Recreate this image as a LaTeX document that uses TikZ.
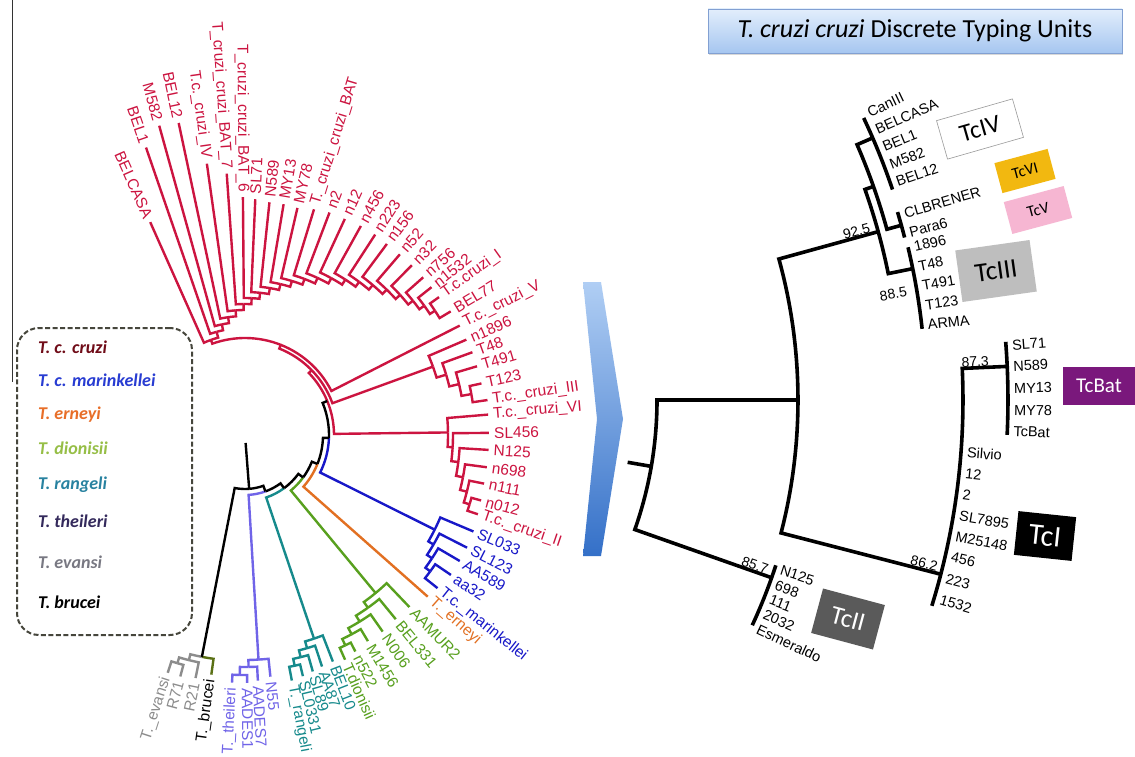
\documentclass[tikz,border=0pt]{standalone}
\usepackage{fontspec}
\setmainfont{Liberation Sans}
\newfontfamily\calib{Carlito}
\usetikzlibrary{positioning}
\usetikzlibrary{shadows}

\definecolor{tcred}{RGB}{204,20,64}
\definecolor{tcblue}{RGB}{24,24,200}
\definecolor{tcorange}{RGB}{226,112,34}
\definecolor{tcgreen}{RGB}{88,160,30}
\definecolor{tcteal}{RGB}{22,138,140}
\definecolor{tcviolet}{RGB}{112,100,232}
\definecolor{tcolive}{RGB}{90,112,20}
\definecolor{tcgray}{RGB}{140,140,140}
\definecolor{lgcruzi}{RGB}{112,12,24}
\definecolor{lgmarin}{RGB}{40,60,210}
\definecolor{lgerneyi}{RGB}{232,110,40}
\definecolor{lgdion}{RGB}{150,190,70}
\definecolor{lgrang}{RGB}{40,130,160}
\definecolor{lgtheil}{RGB}{52,42,92}
\definecolor{lgevansi}{RGB}{120,120,130}
\definecolor{legline}{RGB}{70,70,60}
\definecolor{boxgold}{RGB}{242,184,16}
\definecolor{boxpink}{RGB}{246,182,210}
\definecolor{boxgray}{RGB}{190,190,190}
\definecolor{boxbat}{RGB}{122,24,124}
\definecolor{boxdark}{RGB}{90,90,90}
\definecolor{titletop}{RGB}{226,238,252}
\definecolor{titlebot}{RGB}{166,198,240}
\definecolor{titleline}{RGB}{130,160,210}
\definecolor{chevtop}{RGB}{176,206,244}
\definecolor{chevbot}{RGB}{52,112,200}

\tikzset{branch/.style = {line width=2.4pt},
         rbranch/.style = {line width=3.6pt, black},
         leaflbl/.style = {font=\fontsize{15.5}{15.5}\selectfont, inner sep=1pt},
         dtulbl/.style = {font=\fontsize{14.5}{14.5}\selectfont, inner sep=1pt, anchor=west},
         support/.style = {font=\fontsize{14}{14}\selectfont, inner sep=1pt},
         dtubox/.style = {inner sep=0pt},
         legitem/.style = {font=\calib\bfseries\itshape\fontsize{18}{18}\selectfont,
                           anchor=west, inner sep=0pt}}

% two children of one node: colour1, colour2, node radius, angle1, radius1, angle2, radius2
\newcommand{\cladejoin}[7]{%
  \pgfmathsetmacro{\cjmid}{(#4+#6)/2}%
  \draw[branch,#1] (#4:#5) -- (#4:#3) arc[start angle=#4, end angle=\cjmid, radius=#3];%
  \draw[branch,#2] (#6:#7) -- (#6:#3) arc[start angle=#6, end angle=\cjmid, radius=#3];}
\newcommand{\tipout}[5]{\node[leaflbl, text=#2, rotate=#3, anchor=west] (#1) at (#3:#4) {#5};}
\newcommand{\tipin}[5]{\node[leaflbl, text=#2, rotate=#3+180, anchor=east] (#1) at (#3:#4) {#5};}

\begin{document}
\begin{tikzpicture}[x=1pt, y=1pt]
  \fill[white] (0,0) rectangle (1135,-757);
  \useasboundingbox (0,0) rectangle (1135,-757);

  \draw[black!80, line width=0.8pt] (12,0) -- (12,-382);

  % circular tree
  \begin{scope}[shift={(245,-435)}]
    % T. c. cruzi, upper fan
    \cladejoin{tcred}{tcred}{101}{114}{233}{105.41}{107}
    \cladejoin{tcred}{tcred}{107}{109}{304}{101.83}{113}
    \cladejoin{tcred}{tcred}{113}{105.5}{321}{98.15}{119}
    \cladejoin{tcred}{tcred}{119}{102}{319}{94.31}{125}
    \cladejoin{tcred}{tcred}{125}{98}{274}{90.61}{131}
    \cladejoin{tcred}{tcred}{131}{94}{262}{87.22}{137}
    \cladejoin{tcred}{tcred}{137}{90.5}{238}{83.95}{143}
    \cladejoin{tcred}{tcred}{143}{87.5}{236}{80.39}{149}
    \cladejoin{tcred}{tcred}{149}{84}{234}{76.78}{155}
    \cladejoin{tcred}{tcred}{155}{80.5}{234}{73.05}{161}
    \cladejoin{tcred}{tcred}{161}{77}{233}{69.09}{167}
    \cladejoin{tcred}{tcred}{167}{73}{236}{65.19}{173}
    \cladejoin{tcred}{tcred}{173}{69.2}{238}{61.17}{179}
    \cladejoin{tcred}{tcred}{179}{65.2}{238}{57.14}{185}
    \cladejoin{tcred}{tcred}{185}{61}{239}{53.29}{191}
    \cladejoin{tcred}{tcred}{191}{57}{239}{49.57}{197}
    \cladejoin{tcred}{tcred}{197}{53.4}{238}{45.74}{203}
    \cladejoin{tcred}{tcred}{203}{49.4}{238}{42.08}{209}
    \cladejoin{tcred}{tcred}{209}{45.5}{238}{38.65}{215}
    \cladejoin{tcred}{tcred}{215}{41.5}{238}{35.8}{221}
    \cladejoin{tcred}{tcred}{221}{38.4}{238}{33.2}{227}
    \cladejoin{tcred}{tcred}{227}{35.4}{238}{31}{240}
    % T. c. cruzi, III and VI--II
    \cladejoin{tcred}{tcred}{230}{12.3}{242}{8.2}{245}
    \cladejoin{tcred}{tcred}{220}{16.5}{242}{10.25}{230}
    \cladejoin{tcred}{tcred}{210}{20}{242}{13.38}{220}
    \cladejoin{tcred}{tcred}{200}{23.3}{241}{16.69}{210}
    \cladejoin{tcred}{tcred}{97}{109.71}{101}{27}{241}
    \cladejoin{tcred}{tcred}{93}{68.36}{97}{19.99}{200}
    \cladejoin{tcred}{tcred}{235}{-15.5}{245}{-18.8}{246}
    \cladejoin{tcred}{tcred}{229}{-11.5}{244}{-17.15}{235}
    \cladejoin{tcred}{tcred}{222}{-7.6}{244}{-14.33}{229}
    \cladejoin{tcred}{tcred}{215}{-3.5}{244}{-10.96}{222}
    \cladejoin{tcred}{tcred}{208}{0.5}{244}{-7.23}{215}
    \cladejoin{tcred}{tcred}{203}{4.8}{244}{-3.37}{208}
    \cladejoin{tcred}{tcred}{89}{44.18}{93}{0.72}{203}
    % T. c. marinkellei
    \cladejoin{tcblue}{tcblue}{230}{-34.2}{249}{-38.5}{246}
    \cladejoin{tcblue}{tcblue}{224}{-30.4}{249}{-36.35}{230}
    \cladejoin{tcblue}{tcblue}{218}{-26.9}{249}{-33.38}{224}
    \cladejoin{tcblue}{tcblue}{212}{-22.9}{248}{-30.14}{218}
    % T. dionisii
    \cladejoin{tcgreen}{tcgreen}{233}{-63}{243}{-66}{246}
    \cladejoin{tcgreen}{tcgreen}{226}{-59.2}{240}{-64.5}{233}
    \cladejoin{tcgreen}{tcgreen}{219}{-55}{240}{-61.85}{226}
    \cladejoin{tcgreen}{tcgreen}{212}{-50.7}{238}{-58.43}{219}
    \cladejoin{tcgreen}{tcgreen}{205}{-46.3}{238}{-54.56}{212}
    % T. rangeli
    \cladejoin{tcteal}{tcteal}{236}{-76.5}{248}{-79.2}{250}
    \cladejoin{tcteal}{tcteal}{229}{-74}{246}{-77.85}{236}
    \cladejoin{tcteal}{tcteal}{222}{-71.6}{244}{-75.93}{229}
    \cladejoin{tcteal}{tcteal}{215}{-68.8}{243}{-73.76}{222}
    % T. theileri
    \cladejoin{tcviolet}{tcviolet}{240}{-89.5}{248}{-93}{248}
    \cladejoin{tcviolet}{tcviolet}{232}{-87}{246}{-91.25}{240}
    \cladejoin{tcviolet}{tcviolet}{225}{-84}{243}{-89.13}{232}
    % T. evansi / T. brucei
    \cladejoin{tcgray}{tcgray}{238}{-105}{250}{-108}{250}
    \cladejoin{tcgray}{tcgray}{232}{-101.5}{248}{-106.5}{238}
    \cladejoin{tcolive}{tcgray}{226}{-98}{242}{-104}{232}
    % backbone
    \cladejoin{black}{tcblue}{84}{22.45}{89}{-26.52}{212}
    \cladejoin{black}{tcorange}{78}{-2.04}{84}{-41.5}{244}
    \cladejoin{black}{tcgreen}{72}{-21.77}{78}{-50.43}{205}
    \cladejoin{black}{tcteal}{66}{-36.1}{72}{-71.28}{215}
    \cladejoin{black}{tcviolet}{60}{-53.69}{66}{-86.56}{225}
    \cladejoin{black}{black}{54}{-70.13}{60}{-101}{226}
    \draw[branch] (-85.57:54) -- (-85.57:8);

    % leaf labels
    \tipin{lf01}{tcred}{114}{237}{BELCASA}
    \tipin{lf02}{tcred}{109}{308}{BEL1}
    \tipin{lf03}{tcred}{105.5}{325}{M582}
    \tipin{lf04}{tcred}{102}{323}{BEL12}
    \tipin{lf05}{tcred}{98}{278}{T.c.\_cruzi\_IV}
    \tipin{lf06}{tcred}{94}{266}{T\_cruzi\_cruzi\_BAT\_7}
    \tipin{lf07}{tcred}{90.5}{242}{T\_cruzi\_cruzi\_BAT\_6}
    \tipout{lf08}{tcred}{87.5}{240}{SL71}
    \tipout{lf09}{tcred}{84}{238}{N589}
    \tipout{lf10}{tcred}{80.5}{238}{MY13}
    \tipout{lf11}{tcred}{77}{237}{MY78}
    \tipout{lf12}{tcred}{73}{240}{T.\_cruzi\_cruzi\_BAT}
    \tipout{lf13}{tcred}{69.2}{242}{n2}
    \tipout{lf14}{tcred}{65.2}{242}{n12}
    \tipout{lf15}{tcred}{61}{243}{n456}
    \tipout{lf16}{tcred}{57}{243}{n223}
    \tipout{lf17}{tcred}{53.4}{242}{n156}
    \tipout{lf18}{tcred}{49.4}{242}{n52}
    \tipout{lf19}{tcred}{45.5}{242}{n32}
    \tipout{lf20}{tcred}{41.5}{242}{n756}
    \tipout{lf21}{tcred}{38.4}{242}{n1532}
    \tipout{lf22}{tcred}{35.4}{242}{T.c.cruzi\_I}
    \tipout{lf23}{tcred}{31}{244}{BEL77}
    \tipout{lf24}{tcred}{27}{245}{T.c.\_cruzi\_V}
    \tipout{lf25}{tcred}{23.3}{245}{n1896}
    \tipout{lf26}{tcred}{20}{246}{T48}
    \tipout{lf27}{tcred}{16.5}{246}{T491}
    \tipout{lf28}{tcred}{12.3}{246}{T123}
    \tipout{lf29}{tcred}{8.2}{249}{T.c.\_cruzi\_III}
    \tipout{lf30}{tcred}{4.8}{248}{T.c.\_cruzi\_VI}
    \tipout{lf31}{tcred}{0.5}{248}{SL456}
    \tipout{lf32}{tcred}{-3.5}{248}{N125}
    \tipout{lf33}{tcred}{-7.6}{248}{n698}
    \tipout{lf34}{tcred}{-11.5}{248}{n111}
    \tipout{lf35}{tcred}{-15.5}{249}{n012}
    \tipout{lf36}{tcred}{-18.8}{250}{T.c.\_cruzi\_II}
    \tipout{lf37}{tcblue}{-22.9}{252}{SL033}
    \tipout{lf38}{tcblue}{-26.9}{253}{SL123}
    \tipout{lf39}{tcblue}{-30.4}{253}{AA589}
    \tipout{lf40}{tcblue}{-34.2}{253}{aa32}
    \tipout{lf41}{tcblue}{-38.5}{250}{T.c.\_marinkellei}
    \tipout{lf42}{tcorange}{-41.5}{248}{T.\_erneyi}
    \tipout{lf43}{tcgreen}{-46.3}{242}{AAMUR2}
    \tipout{lf44}{tcgreen}{-50.7}{242}{BEL331}
    \tipout{lf45}{tcgreen}{-55}{244}{N006}
    \tipout{lf46}{tcgreen}{-59.2}{244}{M1456}
    \tipout{lf47}{tcgreen}{-63}{247}{n522}
    \tipout{lf48}{tcgreen}{-66}{250}{T.dionisii}
    \tipout{lf49}{tcteal}{-68.8}{247}{BEL10}
    \tipout{lf50}{tcteal}{-71.6}{248}{AA87}
    \tipout{lf51}{tcteal}{-74}{250}{SL89}
    \tipout{lf52}{tcteal}{-76.5}{252}{SL0331}
    \tipout{lf53}{tcteal}{-79.2}{254}{T.\_rangeli}
    \tipout{lf54}{tcviolet}{-84}{247}{N55}
    \tipout{lf55}{tcviolet}{-87}{250}{AADES7}
    \tipout{lf56}{tcviolet}{-89.5}{252}{AADES1}
    \tipin{lf57}{tcviolet}{-93}{252}{T.\_theileri}
    \tipin{lf58}{black}{-98}{246}{T.\_brucei}
    \tipin{lf59}{tcgray}{-101.5}{252}{R21}
    \tipin{lf60}{tcgray}{-105}{254}{R71}
    \tipin{lf61}{tcgray}{-108}{254}{T.\_evansi}
  \end{scope}

  % legend
  \node[draw=legline, dash pattern=on 5pt off 2.5pt, line width=2pt, rounded corners=22pt,
        minimum width=175pt, minimum height=307pt, inner sep=0pt] (legend) at (104.5,-481.5) {};
  \node[legitem, text=lgcruzi] (lgcz) at (38,-347) {T. c. cruzi};
  \node[legitem, text=lgmarin] (lgmk) at (38,-380) {T. c. marinkellei};
  \node[legitem, text=lgerneyi] (lger) at (38,-415) {T. erneyi};
  \node[legitem, text=lgdion] (lgdn) at (38,-448) {T. dionisii};
  \node[legitem, text=lgrang] (lgrn) at (38,-485) {T. rangeli};
  \node[legitem, text=lgtheil] (lgth) at (38,-521) {T. theileri};
  \node[legitem, text=lgevansi] (lgev) at (38,-562) {T. evansi};
  \node[legitem, text=black] (lgbr) at (38,-602) {T. brucei};

  % chevron
  \shade[top color=chevtop, bottom color=chevbot]
    (583,-282) -- (601,-282) -- (623,-419) -- (601,-556) -- (583,-556) -- (597,-419) -- cycle;

  % title
  \node[draw=titleline, top color=titletop, bottom color=titlebot, minimum width=414pt,
        minimum height=44pt, drop shadow={opacity=0.3, shadow xshift=1pt, shadow yshift=-2pt},
        font=\calib\fontsize{26}{26}\selectfont] (title) at (915,-31)
        {\textit{T. cruzi cruzi} Discrete Typing Units};

  % DTU tree
  \begin{scope}[shift={(267,-400)}]
    \draw[rbranch] (-9.8:366) -- (-9.8:390);
    \draw[rbranch] (0:531) -- (0:390) arc[start angle=0, end angle=-19.4, radius=390] -- (-19.4:535);
    \draw[rbranch] (15.4:634) -- (15.4:531) arc[start angle=15.4, end angle=-14.5, radius=531] -- (-14.5:696);
    \draw[rbranch] (19.4:643) -- (19.4:634) arc[start angle=19.4, end angle=11.5, radius=634] -- (11.5:659);
    \draw[rbranch] (23.4:660) -- (23.4:643) arc[start angle=23.4, end angle=15.4, radius=643] -- (15.4:658);
    \draw[rbranch] (25.3:660) arc[start angle=25.3, end angle=18.6, radius=660];
    \draw[rbranch] (16.6:658) arc[start angle=16.6, end angle=14.3, radius=658];
    \draw[rbranch] (13.4:659) arc[start angle=13.4, end angle=6.2, radius=659];
    \draw[rbranch] (2.6:741) -- (2.6:696) arc[start angle=2.6, end angle=-17.2, radius=696];
    \draw[rbranch] (4.5:741) arc[start angle=4.5, end angle=-2.7, radius=741];
    \draw[rbranch] (-18.0:535) arc[start angle=-18.0, end angle=-24.9, radius=535];

    \node[dtulbl, rotate=25.5] (canIII) at (25.5:665) {CanIII};
    \node[dtulbl, rotate=23.9] (belcasa) at (23.9:665) {BELCASA};
    \node[dtulbl, rotate=22.3] (belone) at (22.3:665) {BEL1};
    \node[dtulbl, rotate=20.7] (mfiveeight) at (20.7:665) {M582};
    \node[dtulbl, rotate=19.1] (beltwelve) at (19.1:665) {BEL12};
    \node[dtulbl, rotate=16.3] (clbrener) at (16.3:663) {CLBRENER};
    \node[dtulbl, rotate=14.6] (parasix) at (14.6:663) {Para6};
    \node[dtulbl, rotate=13.3] (r1896) at (13.3:664) {1896};
    \node[dtulbl, rotate=11.6] (rT48) at (11.6:664) {T48};
    \node[dtulbl, rotate=9.9] (rT491) at (9.9:664) {T491};
    \node[dtulbl, rotate=8.2] (rT123) at (8.2:664) {T123};
    \node[dtulbl, rotate=6.5] (arma) at (6.5:664) {ARMA};
    \node[dtulbl, rotate=4.2] (rSL71) at (4.2:746) {SL71};
    \node[dtulbl, rotate=2.6] (rN589) at (2.6:746) {N589};
    \node[dtulbl, rotate=0.9] (rMY13) at (0.9:746) {MY13};
    \node[dtulbl, rotate=-0.8] (rMY78) at (-0.8:746) {MY78};
    \node[dtulbl, rotate=-2.4] (rTcBat) at (-2.4:746) {TcBat};
    \node[dtulbl, rotate=-4.3] (silvio) at (-4.3:701) {Silvio};
    \node[dtulbl, rotate=-6.0] (r12) at (-6.0:701) {12};
    \node[dtulbl, rotate=-7.7] (r2) at (-7.7:701) {2};
    \node[dtulbl, rotate=-9.5] (rSL7895) at (-9.5:701) {SL7895};
    \node[dtulbl, rotate=-11.2] (rM25148) at (-11.2:701) {M25148};
    \node[dtulbl, rotate=-12.9] (r456) at (-12.9:701) {456};
    \node[dtulbl, rotate=-14.7] (r223) at (-14.7:701) {223};
    \node[dtulbl, rotate=-16.5] (r1532) at (-16.5:701) {1532};
    \node[dtulbl, rotate=-18.3] (rN125) at (-18.3:540) {N125};
    \node[dtulbl, rotate=-20.0] (r698) at (-20.0:540) {698};
    \node[dtulbl, rotate=-21.6] (r111) at (-21.6:540) {111};
    \node[dtulbl, rotate=-23.3] (r2032) at (-23.3:540) {2032};
    \node[dtulbl, rotate=-25.0] (esmeraldo) at (-25.0:540) {Esmeraldo};

    \node[support, rotate=15.4, anchor=south east] (bs925) at (15.4:628) {92.5};
    \node[support, rotate=9.6, anchor=east] (bs885) at (9.6:650) {88.5};
    \node[support, rotate=2.6, anchor=south east] (bs873) at (2.6:724) {87.3};
    \node[support, rotate=-14.5, anchor=south east] (bs862) at (-14.5:692) {86.2};
    \node[support, rotate=-19.4, anchor=south east] (bs857) at (-19.4:530) {85.7};
  \end{scope}

  % DTU boxes
  \node[dtubox, draw=gray!80, fill=white, line width=0.6pt, minimum width=79pt, minimum height=40pt,
        rotate=16, font=\calib\fontsize{25}{25}\selectfont] (boxIV) at (980,-129) {TcIV};
  \node[dtubox, fill=boxgold, minimum width=55pt, minimum height=31pt,
        rotate=15, font=\calib\fontsize{16}{16}\selectfont] (boxVI) at (1025,-171) {TcVI};
  \node[dtubox, fill=boxpink, minimum width=62pt, minimum height=33pt,
        rotate=15, font=\calib\fontsize{16}{16}\selectfont] (boxV) at (1038,-210) {TcV};
  \node[dtubox, fill=boxgray, minimum width=75pt, minimum height=52pt,
        rotate=8, font=\calib\fontsize{27}{27}\selectfont] (boxIII) at (996,-271) {TcIII};
  \node[dtubox, fill=boxbat, text=white, minimum width=72pt, minimum height=38pt,
        font=\calib\fontsize{21}{21}\selectfont] (boxBat) at (1099,-386) {TcBat};
  \node[dtubox, fill=black, text=white, minimum width=58pt, minimum height=44pt,
        rotate=-6, font=\calib\fontsize{30}{30}\selectfont] (boxI) at (1045,-536) {TcI};
  \node[dtubox, fill=boxdark, text=white, minimum width=64pt, minimum height=46pt,
        rotate=-15, font=\calib\fontsize{26}{26}\selectfont] (boxII) at (848,-619) {TcII};
\end{tikzpicture}
\end{document}
